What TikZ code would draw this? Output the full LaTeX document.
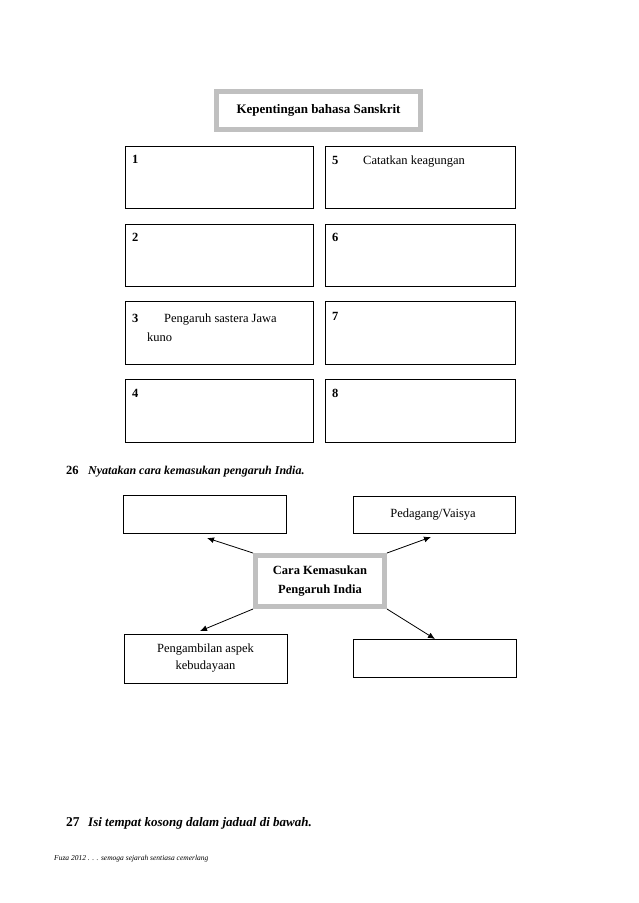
\documentclass[tikz,border=0pt]{standalone}
\usepackage{fontspec}
\setmainfont{Liberation Serif}
\usetikzlibrary{arrows.meta}
\definecolor{framegray}{HTML}{C0C0C0}
\begin{document}
\begin{tikzpicture}[x=1pt,y=-1pt,
  box/.style={draw=black,line width=1pt,anchor=north west,inner sep=0pt},
  grayframe/.style={draw=framegray,line width=5pt,inner sep=0pt,align=center,font=\fontsize{13}{15}\selectfont\bfseries},
  num/.style={anchor=base west,inner sep=0pt,font=\fontsize{12.5}{15}\selectfont\bfseries},
  txt/.style={anchor=base west,inner sep=0pt,font=\fontsize{12.5}{15}\selectfont},
  ctxt/.style={inner sep=0pt,align=center,font=\fontsize{12.5}{17}\selectfont},
  arr/.style={line width=0.8pt,-{Latex[length=7pt,width=6pt]}}]
\useasboundingbox[fill=white] (0,0) rectangle (638,903);

% title
\node[grayframe,minimum width=204pt,minimum height=38pt] (title) at (318.5,110.5) {Kepentingan bahasa Sanskrit};

% grid of boxes
\node[box,minimum width=188pt,minimum height=62pt] (b1) at (125,146) {};
\node[box,minimum width=190pt,minimum height=62pt] (b5) at (325,146) {};
\node[box,minimum width=188pt,minimum height=62pt] (b2) at (125,224) {};
\node[box,minimum width=190pt,minimum height=62pt] (b6) at (325,224) {};
\node[box,minimum width=188pt,minimum height=63pt] (b3) at (125,301) {};
\node[box,minimum width=190pt,minimum height=63pt] (b7) at (325,301) {};
\node[box,minimum width=188pt,minimum height=63pt] (b4) at (125,379) {};
\node[box,minimum width=190pt,minimum height=63pt] (b8) at (325,379) {};

\node[num] (n1) at (132,163) {1};
\node[num] (n2) at (132,241) {2};
\node[num] (n3) at (132,322) {3};
\node[num] (n4) at (132,397) {4};
\node[num] (n5) at (332,164) {5};
\node[num] (n6) at (332,241) {6};
\node[num] (n7) at (332,320) {7};
\node[num] (n8) at (332,397) {8};
\node[txt] (t5) at (363,164) {Catatkan keagungan};
\node[txt] (t3a) at (164,322) {Pengaruh sastera Jawa};
\node[txt] (t3b) at (147,341) {kuno};

% question 26
\node[num] (q26) at (66,474) {26};
\node[anchor=base west,inner sep=0pt,font=\fontsize{12}{14}\selectfont\bfseries\itshape] (q26t) at (88,474) {Nyatakan cara kemasukan pengaruh India.};

% second diagram
\node[box,minimum width=163pt,minimum height=38pt] (tl) at (123,495) {};
\node[box,minimum width=162pt,minimum height=37pt] (tr) at (353,496) {};
\node[ctxt] (trt) at (433,514.5) {Pedagang/Vaisya};
\node[grayframe,minimum width=129pt,minimum height=51pt] (c) at (320,581) {};
\node[inner sep=0pt,align=center,font=\fontsize{12.5}{19}\selectfont\bfseries] (ct) at (320,581) {Cara Kemasukan\\Pengaruh India};
\node[box,minimum width=163pt,minimum height=49pt] (bl) at (124,634) {};
\node[ctxt] (blt) at (205.5,658) {Pengambilan aspek\\kebudayaan};
\node[box,minimum width=163pt,minimum height=38pt] (br) at (353,639) {};

\coordinate (atl) at (207,538);
\coordinate (atr) at (431,537);
\coordinate (abl) at (200,631);
\coordinate (abr) at (435,639);
\draw[arr] (c.north west) -- (atl);
\draw[arr] (c.north east) -- (atr);
\draw[arr] (c.south west) -- (abl);
\draw[arr] (c.south east) -- (abr);

% question 27
\node[anchor=base west,inner sep=0pt,font=\fontsize{13.5}{16}\selectfont\bfseries] (q27) at (66,826) {27};
\node[anchor=base west,inner sep=0pt,font=\fontsize{13}{16}\selectfont\bfseries\itshape] (q27t) at (88,826) {Isi tempat kosong dalam jadual di bawah.};

% footer
\node[anchor=base west,inner sep=0pt,font=\fontsize{7.5}{9}\selectfont\itshape] (foot) at (54,860) {Fuza 2012 . . . semoga sejarah sentiasa cemerlang};
\end{tikzpicture}
\end{document}
